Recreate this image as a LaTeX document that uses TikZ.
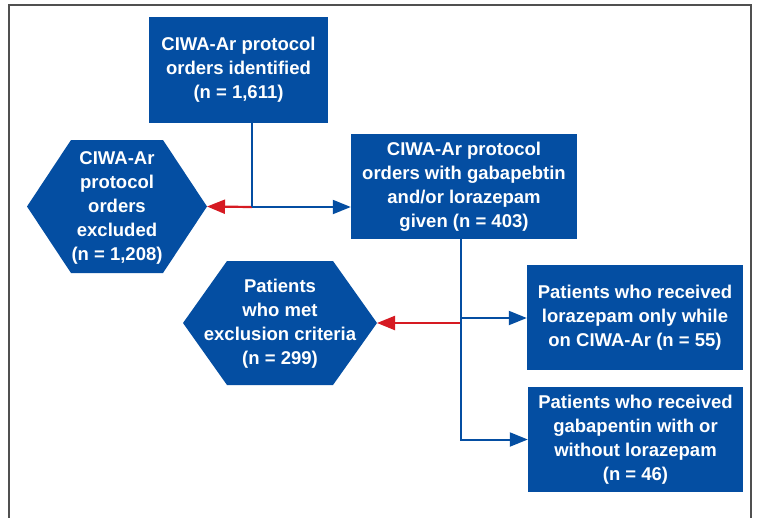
\documentclass[tikz,border=0pt]{standalone}
\usepackage{fontspec}
\setmainfont{Liberation Sans}
\usetikzlibrary{arrows.meta,calc}
\definecolor{cblue}{RGB}{4,78,162}
\definecolor{cred}{RGB}{214,26,34}
\definecolor{cframe}{RGB}{80,80,80}
\tikzset{
  boxtxt/.style={fill=cblue, text=white, align=center, inner sep=0pt,
    font=\fontsize{18.5}{24}\selectfont\bfseries},
  hextxt/.style={text=white, align=center, inner sep=0pt,
    font=\fontsize{18.5}{24}\selectfont\bfseries},
  hexfill/.style={fill=cblue},
  blueline/.style={draw=cblue, line width=2pt},
  redline/.style={draw=cred, line width=2.2pt},
  bluearrow/.style={blueline, -{Triangle[length=18pt,width=14pt]}},
  redarrow/.style={redline, -{Triangle[length=18pt,width=14pt]}},
  framel/.style={draw=cframe, line width=2pt}
}
\begin{document}
\begin{tikzpicture}[x=1pt,y=-1pt]
\useasboundingbox (0,0) rectangle (757,517);
\fill[white] (0,0) rectangle (757,517);
\draw[framel] (9,520) -- (9,5) -- (751,5) -- (751,520);

% boxes
\node[boxtxt, minimum width=179pt, minimum height=106pt] (box1) at (238.5,70)
  {CIWA-Ar protocol\\orders identified\\(n = 1,611)};
\node[boxtxt, minimum width=226pt, minimum height=105pt] (box2) at (464,186.5)
  {CIWA-Ar protocol\\orders with gabapebtin\\and/or lorazepam\\given (n = 403)};
\node[boxtxt, minimum width=216pt, minimum height=105pt] (box3) at (635,317.5)
  {Patients who received\\lorazepam only while\\on CIWA-Ar (n = 55)};
\node[boxtxt, minimum width=215pt, minimum height=105pt] (box4) at (635.5,439.5)
  {Patients who received\\gabapentin with or\\without lorazepam\\(n = 46)};

% hexagon 1
\coordinate (hex1c) at (117,206.5);
\fill[hexfill] ($(hex1c)+(-90,0)$) -- ($(hex1c)+(-46,-66.5)$) -- ($(hex1c)+(46,-66.5)$)
  -- ($(hex1c)+(90,0)$) -- ($(hex1c)+(46,66.5)$) -- ($(hex1c)+(-46,66.5)$) -- cycle;
\node[hextxt] (hex1) at (117,208) {CIWA-Ar\\protocol\\orders\\excluded\\(n = 1,208)};
\coordinate (hex1tip) at ($(hex1c)+(90,0)$);

% hexagon 2
\coordinate (hex2c) at (280,323);
\fill[hexfill] ($(hex2c)+(-97,0)$) -- ($(hex2c)+(-53,-62)$) -- ($(hex2c)+(53,-62)$)
  -- ($(hex2c)+(97,0)$) -- ($(hex2c)+(53,62)$) -- ($(hex2c)+(-53,62)$) -- cycle;
\node[hextxt] (hex2) at (280,323.5) {Patients\\who met\\exclusion criteria\\(n = 299)};
\coordinate (hex2tip) at ($(hex2c)+(97,0)$);

% connectors from box1
\coordinate (j1) at (252,207);
\draw[redarrow] (j1) -- (hex1tip);
\draw[blueline] (box1.south -| j1) -- (j1);
\draw[bluearrow] (j1) -- (j1 -| box2.west);

% connectors from box2
\coordinate (j2) at (461,323);
\coordinate (j3) at (461,318);
\draw[redarrow] (j2) -- (hex2tip);
\draw[bluearrow] (box2.south -| j3) |- (box4.west);
\draw[bluearrow] (j3) -- (j3 -| box3.west);
\end{tikzpicture}
\end{document}
